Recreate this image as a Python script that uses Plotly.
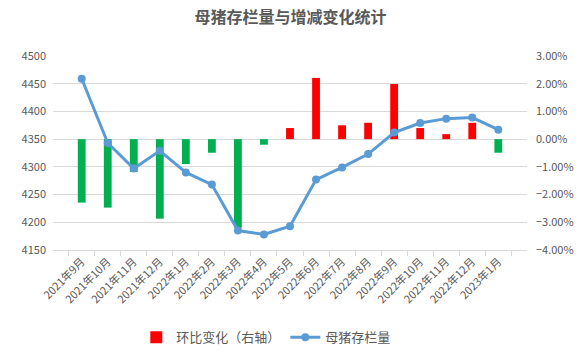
import plotly.graph_objects as go

months = ["2021年9月", "2021年10月", "2021年11月", "2021年12月", "2022年1月", "2022年2月",
          "2022年3月", "2022年4月", "2022年5月", "2022年6月", "2022年7月", "2022年8月",
          "2022年9月", "2022年10月", "2022年11月", "2022年12月", "2023年1月"]
sow_stock = [4459, 4343, 4297, 4329, 4290, 4268, 4185, 4178, 4193, 4277, 4299, 4323,
             4362, 4379, 4387, 4389, 4367]
mom_change = [-2.29, -2.47, -1.18, -2.87, -0.90, -0.49, -3.20, -0.20, 0.40, 2.21, 0.50,
              0.59, 1.99, 0.40, 0.18, 0.59, -0.49]

RED = "#FF0000"
GREEN = "#00B050"
LINE = "#5B9BD5"
TXT = "#595959"
FONT = "Noto Sans CJK SC"

pos = [v / 100 if v >= 0 else None for v in mom_change]
neg = [v / 100 if v < 0 else None for v in mom_change]

fig = go.Figure()
fig.add_trace(go.Bar(
    x=months, y=pos, name="环比变化（右轴）", legendgroup="bar",
    marker=dict(color=RED, line=dict(width=0)), width=0.3, yaxis="y",
))
fig.add_trace(go.Bar(
    x=months, y=neg, name="环比变化（右轴）", legendgroup="bar", showlegend=False,
    marker=dict(color=GREEN, line=dict(width=0)), width=0.3, yaxis="y",
))
fig.add_trace(go.Scatter(
    x=months, y=sow_stock, name="母猪存栏量", mode="lines+markers",
    line=dict(color=LINE, width=3), marker=dict(color=LINE, size=8), yaxis="y2",
))

fig.update_layout(
    width=581, height=355,
    margin=dict(l=53, r=54, t=56, b=105, autoexpand=False),
    paper_bgcolor="white", plot_bgcolor="white",
    font=dict(family=FONT, color=TXT, size=11),
    title=dict(text="<b>母猪存栏量与增减变化统计</b>", x=0.5, xanchor="center",
               y=0.95, yanchor="middle", font=dict(size=16, color=TXT, family=FONT)),
    showlegend=True,
    barmode="relative",
    legend=dict(orientation="h", x=0.45, xanchor="center", y=-0.45, yanchor="middle",
                font=dict(size=13, color=TXT), traceorder="normal"),
    xaxis=dict(type="category", tickangle=-45, showgrid=False, showline=True,
               linecolor="#D9D9D9", linewidth=1, ticks="outside", tickcolor="#D9D9D9",
               ticklen=5, tickson="boundaries", tickfont=dict(size=11, color=TXT),
               automargin=False),
    yaxis=dict(side="right", range=[-0.04, 0.03], dtick=0.01, tickformat=".2%",
               showgrid=True, gridcolor="#D9D9D9", gridwidth=1, zeroline=False,
               tickfont=dict(size=11, color=TXT), ticklabelstandoff=8, automargin=False),
    yaxis2=dict(side="left", overlaying="y", range=[4150, 4500], dtick=50,
                showgrid=False, zeroline=False, tickfont=dict(size=11, color=TXT),
                ticklabelstandoff=6, automargin=False),
)

fig.write_html("out.html")
